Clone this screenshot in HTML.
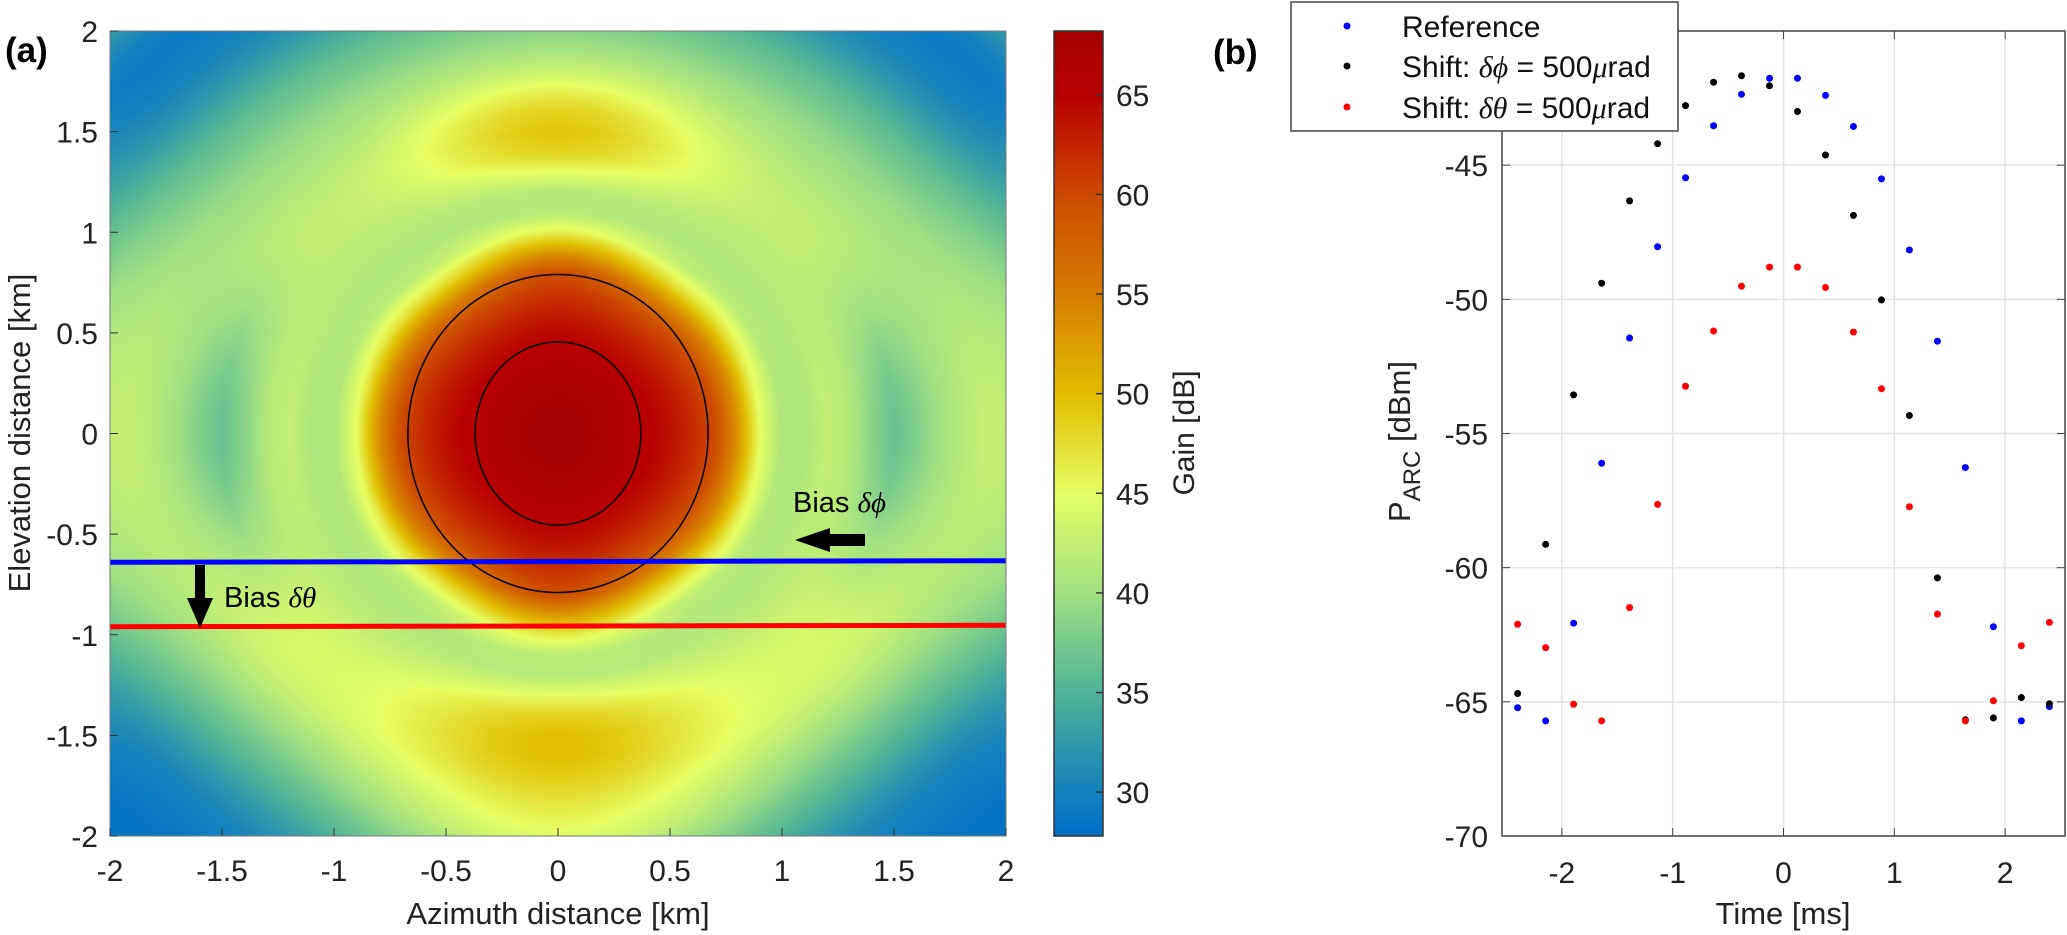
<!DOCTYPE html>
<html><head><meta charset="utf-8"><style>
html,body{margin:0;padding:0;background:#fff;}
#wrap{position:relative;width:2067px;height:935px;overflow:hidden;font-family:"Liberation Sans",Arial,sans-serif;}
canvas{position:absolute;}
svg{position:absolute;left:0;top:0;}
</style></head><body>
<div id="wrap">
<canvas id="heat" width="896" height="805" style="left:110px;top:31px"></canvas>
<canvas id="cbar" width="49" height="805" style="left:1054px;top:31px"></canvas>
<svg id="svg" width="2067" height="935"></svg>
</div>
<script>
// ---- Panel (a) data: gain radial profiles (dB) sampled at r = 0,0.1,...,2.9 km
const radii = [0,0.1,0.2,0.3,0.4,0.5,0.6,0.7,0.8,0.9,1.0,1.1,1.2,1.3,1.4,1.5,1.6,1.7,1.8,1.9,2.0,2.1,2.2,2.3,2.4,2.5,2.6,2.7,2.8,2.9];
const gainAz = [68.2,68.0,67.3,66.2,65.3,63.9,62.2,60.0,53.5,45,41,41,42.5,41.5,38.5,36.5,38,40,41.5,42.5,42.5,42.5,42,41.5,41,40,39,38,37,36];
const gainDiagUp = [68.2,68.0,67.4,66.5,65.2,63.8,62,59.5,54,47,42,41,41.5,42,42.5,42.5,42,41,40,39,37.5,36,34,32,30.5,29.5,29,30,32,33];
const gainElUp = [68.2,68.0,67.5,66.7,65.6,64.5,63.0,61.4,59.5,53,46,41.5,41.5,45,48.5,49.5,48.5,46,43,40.5,38.5,37,35.5,34,33,32,31,30,29.5,29];
const gainDiagDown = [68.2,68.0,67.4,66.5,65.2,63.8,62,59.5,54,47,42,41,41.5,42.5,43.5,44,44,43.5,42,40,38,36,34,32,30.5,29.5,29,28.5,28.5,28.5];
const gainElDown = [68.2,68.0,67.5,66.7,65.6,64.5,63.0,61.4,59.5,53,46.5,42,41.5,45,48.5,50,50,49,47.5,46,44.5,42,40,38,36,34,32,30,29,29];
const heatTicksX = [-2,-1.5,-1,-0.5,0,0.5,1,1.5,2];
const heatTicksY = [-2,-1.5,-1,-0.5,0,0.5,1,1.5,2];
const cbarTicks = [30,35,40,45,50,55,60,65];
const contourRx = [0.37,0.67];
const contourRy = [0.455,0.79];
const biasPhiY = [-0.64,-0.632];
const biasThetaY = [-0.96,-0.953];
// colormap stops (dB, r, g, b)
const cmapVals = [27.8,30,35,40,45,50,55,60,65,68.2];
const cmapR = [0,20,80,160,230,225,215,205,185,165];
const cmapG = [110,130,180,225,255,190,125,75,0,0];
const cmapB = [200,190,150,130,100,0,0,0,0,0];
// ---- Panel (b) data
const timesMs = [-2.399,-2.146,-1.894,-1.641,-1.389,-1.136,-0.884,-0.631,-0.379,-0.126,0.126,0.379,0.631,0.884,1.136,1.389,1.641,1.894,2.146,2.399];
const refP = [-65.22,-65.71,-62.07,-56.11,-51.44,-48.04,-45.47,-43.53,-42.36,-41.76,-41.76,-42.4,-43.56,-45.51,-48.16,-51.56,-56.27,-62.2,-65.71,-65.18];
const phiP = [-64.69,-59.13,-53.56,-49.4,-46.33,-44.2,-42.78,-41.91,-41.67,-42.04,-43.0,-44.62,-46.87,-50.02,-54.33,-60.38,-65.67,-65.6,-64.84,-65.07];
const thetaP = [-62.11,-62.98,-65.09,-65.71,-61.49,-57.64,-53.24,-51.18,-49.51,-48.8,-48.8,-49.56,-51.22,-53.33,-57.73,-61.73,-65.71,-64.96,-62.91,-62.04];
const pTicks = [-70,-65,-60,-55,-50,-45];
const tTicks = [-2,-1,0,1,2];
</script>
<script>
const NS="http://www.w3.org/2000/svg";
const svg=document.getElementById('svg');
function mk(tag,attrs,parent){const e=document.createElementNS(NS,tag);for(const k in attrs)e.setAttribute(k,attrs[k]);(parent||svg).appendChild(e);return e;}
const AX={l:110,r:1006,t:31,b:836};
const ax=v=>AX.l+(v+2)/4*(AX.r-AX.l);
const ay=v=>AX.t+(2-v)/4*(AX.b-AX.t);
function interp(xs,ys,x){if(x<=xs[0])return ys[0];for(let i=1;i<xs.length;i++){if(x<=xs[i]){const t=(x-xs[i-1])/(xs[i]-xs[i-1]);return ys[i-1]+t*(ys[i]-ys[i-1]);}}return ys[ys.length-1];}
function cmap(v){return [interp(cmapVals,cmapR,v),interp(cmapVals,cmapG,v),interp(cmapVals,cmapB,v)];}
function gainAt(x,y){
  const r=Math.hypot(x,y);const ang=Math.atan2(Math.abs(y),Math.abs(x))*180/Math.PI;
  const a=interp(radii,gainAz,r);
  const d=interp(radii,y>=0?gainDiagUp:gainDiagDown,r);
  const e=interp(radii,y>=0?gainElUp:gainElDown,r);
  if(ang<=45){const t=ang/45;const s=t*t*(3-2*t);return a+(d-a)*s;}
  const t=(ang-45)/45;const s0=t*t*(3-2*t);const s=Math.pow(s0,1.3);return d+(e-d)*s;
}
(function(){
  const c=document.getElementById('heat');const g=c.getContext('2d');
  const W=c.width,H=c.height;const img=g.createImageData(W,H);
  for(let j=0;j<H;j++){const y=2-(j+0.5)/H*4;for(let i=0;i<W;i++){const x=-2+(i+0.5)/W*4;const col=cmap(gainAt(x,y));const k=(j*W+i)*4;img.data[k]=col[0];img.data[k+1]=col[1];img.data[k+2]=col[2];img.data[k+3]=255;}}
  g.putImageData(img,0,0);
  const cb=document.getElementById('cbar');const h=cb.getContext('2d');
  for(let j=0;j<cb.height;j++){const v=cmapVals[cmapVals.length-1]-(j+0.5)/cb.height*(cmapVals[cmapVals.length-1]-cmapVals[0]);const col=cmap(v);h.fillStyle=`rgb(${col[0]|0},${col[1]|0},${col[2]|0})`;h.fillRect(0,j,cb.width,1);}
})();
contourRx.forEach((rx,i)=>{const e=mk('ellipse',{cx:ax(0),cy:ay(0),rx:ax(rx)-ax(0),ry:ay(0)-ay(contourRy[i]),fill:'none',stroke:'#000','stroke-width':1.5});

});
let ln=mk('line',{x1:ax(-2),y1:ay(biasPhiY[0]),x2:ax(2),y2:ay(biasPhiY[1]),stroke:'#0000ff','stroke-width':5});

ln=mk('line',{x1:ax(-2),y1:ay(biasThetaY[0]),x2:ax(2),y2:ay(biasThetaY[1]),stroke:'#ff0000','stroke-width':5});

let ar=mk('path',{d:'M195,565 L205,565 L205,598 L213,598 L200,628 L187,598 L195,598 Z',fill:'#000'});

ar=mk('path',{d:'M865,534 L830,534 L830,528 L795,540 L830,552 L830,546 L865,546 Z',fill:'#000'});

let t=mk('text',{x:793,y:512,'font-size':29,fill:'#000'});t.innerHTML='Bias <tspan font-family="Liberation Serif" font-style="italic">δϕ</tspan>';

t=mk('text',{x:224,y:607,'font-size':29,fill:'#000'});t.innerHTML='Bias <tspan font-family="Liberation Serif" font-style="italic">δθ</tspan>';

let fr=mk('rect',{x:AX.l,y:AX.t,width:AX.r-AX.l,height:AX.b-AX.t,fill:'none',stroke:'#777','stroke-width':1});

heatTicksX.forEach(v=>{const x=ax(v);mk('line',{x1:x,y1:AX.b,x2:x,y2:AX.b-8,stroke:'#333'});
const tt=mk('text',{x:x,y:881,'font-size':30,'text-anchor':'middle',fill:'#222'});tt.textContent=String(v);
});
heatTicksY.forEach(v=>{const y=ay(v);mk('line',{x1:AX.l,y1:y,x2:AX.l+8,y2:y,stroke:'#333'});
const tt=mk('text',{x:98,y:y+11,'font-size':30,'text-anchor':'end',fill:'#222'});tt.textContent=String(v);
});
t=mk('text',{x:558,y:924,'font-size':31,'text-anchor':'middle',fill:'#222'});t.textContent='Azimuth distance [km]';

t=mk('text',{x:0,y:0,'font-size':31,'text-anchor':'middle',fill:'#222',transform:'translate(30,433) rotate(-90)'});t.textContent='Elevation distance [km]';

t=mk('text',{x:5,y:62,'font-size':35,'font-weight':'bold',fill:'#000'});t.textContent='(a)';

const CB={l:1054,r:1103,t:31,b:836,lo:cmapVals[0],hi:cmapVals[cmapVals.length-1]};
const cy=v=>CB.b-(v-CB.lo)/(CB.hi-CB.lo)*(CB.b-CB.t);
fr=mk('rect',{x:CB.l,y:CB.t,width:CB.r-CB.l,height:CB.b-CB.t,fill:'none',stroke:'#333','stroke-width':1.5});

cbarTicks.forEach(v=>{const y=cy(v);mk('line',{x1:CB.r-7,y1:y,x2:CB.r,y2:y,stroke:'#333','stroke-width':1.5});
const tt=mk('text',{x:1116,y:y+11,'font-size':30,fill:'#222'});tt.textContent=String(v);
});
t=mk('text',{x:0,y:0,'font-size':30,'text-anchor':'middle',fill:'#222',transform:'translate(1194,433) rotate(-90)'});t.textContent='Gain [dB]';

const BX={l:1502,r:2065,t:31,b:836,x0:-2.54,x1:2.54,y0:-70,y1:-40};
const bx=v=>BX.l+(v-BX.x0)/(BX.x1-BX.x0)*(BX.r-BX.l);
const by=v=>BX.b-(v-BX.y0)/(BX.y1-BX.y0)*(BX.b-BX.t);
tTicks.forEach(v=>{const x=bx(v);mk('line',{x1:x,y1:BX.t,x2:x,y2:BX.b,stroke:'#e3e3e3','stroke-width':1.5});});
pTicks.forEach(v=>{const y=by(v);mk('line',{x1:BX.l,y1:y,x2:BX.r,y2:y,stroke:'#e3e3e3','stroke-width':1.5});});
fr=mk('rect',{x:BX.l,y:BX.t,width:BX.r-BX.l,height:BX.b-BX.t,fill:'none',stroke:'#444','stroke-width':1.5});

tTicks.forEach(v=>{const x=bx(v);mk('line',{x1:x,y1:BX.b,x2:x,y2:BX.b-8,stroke:'#444'});mk('line',{x1:x,y1:BX.t,x2:x,y2:BX.t+8,stroke:'#444'});
const tt=mk('text',{x:x,y:883,'font-size':30,'text-anchor':'middle',fill:'#222'});tt.textContent=String(v);
});
pTicks.forEach(v=>{const y=by(v);mk('line',{x1:BX.l,y1:y,x2:BX.l+8,y2:y,stroke:'#444'});mk('line',{x1:BX.r,y1:y,x2:BX.r-8,y2:y,stroke:'#444'});
const tt=mk('text',{x:1488,y:y+11,'font-size':30,'text-anchor':'end',fill:'#222'});tt.textContent=String(v);
});
function series(vals,color,name){vals.forEach((v,i)=>{const c=mk('circle',{cx:bx(timesMs[i]),cy:by(v),r:3.5,fill:color});

});}
series(refP,'#0000ff','reference');
series(phiP,'#000000','shift-phi');
series(thetaP,'#ff0000','shift-theta');
t=mk('text',{x:1783,y:924,'font-size':31,'text-anchor':'middle',fill:'#222'});t.textContent='Time [ms]';

t=mk('text',{x:0,y:0,'font-size':31,fill:'#222',transform:'translate(1410,522) rotate(-90)'});t.innerHTML='P<tspan font-size="24" dy="10">ARC</tspan><tspan dy="-10"> [dBm]</tspan>';

t=mk('text',{x:1213,y:64,'font-size':35,'font-weight':'bold',fill:'#000'});t.textContent='(b)';

const lg=mk('g',{});
mk('rect',{x:1291,y:2,width:387,height:129,fill:'#fff',stroke:'#444','stroke-width':1.5},lg);
const legColors=['#0000ff','#000','#ff0000'];
const legLabels=['Reference','Shift: <tspan font-family="Liberation Serif" font-style="italic">δϕ</tspan> = 500<tspan font-family="Liberation Serif" font-style="italic">μ</tspan>rad','Shift: <tspan font-family="Liberation Serif" font-style="italic">δθ</tspan> = 500<tspan font-family="Liberation Serif" font-style="italic">μ</tspan>rad'];
[26,66,107].forEach((y,i)=>{const c=mk('circle',{cx:1347,cy:y,r:3.5,fill:legColors[i]},lg);

const tt=mk('text',{x:1402,y:y+11,'font-size':30,fill:'#111'},lg);tt.innerHTML=legLabels[i];
});
</script>
</body></html>
